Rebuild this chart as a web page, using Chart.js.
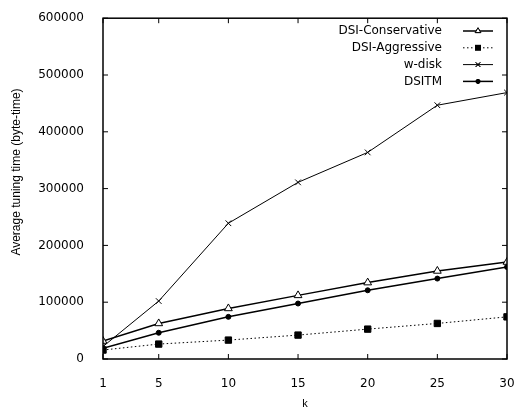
<!DOCTYPE html>
<html>
<head>
<meta charset="utf-8">
<script src="https://cdn.jsdelivr.net/npm/chart.js@4/dist/chart.umd.min.js"></script>
<style>
  html, body { margin: 0; padding: 0; background: #fff; }
  #wrap { width: 525px; height: 407px; }
</style>
</head>
<body>
<div id="wrap"><canvas id="myChart"></canvas></div>
<script>
// valores
const kValues = [1, 5, 10, 15, 20, 25, 30];
const conservative = [31600, 62600, 89000, 112000, 134500, 155000, 170700];
const aggressive = [15800, 26300, 33300, 42100, 52600, 62600, 74200];
const wDisk = [22000, 102000, 239000, 311000, 363700, 446800, 469000];
const dsitm = [18700, 46200, 74200, 97700, 121000, 141600, 162000];
const yTicks = [0, 100000, 200000, 300000, 400000, 500000, 600000];
const labels = ['DSI-Conservative', 'DSI-Aggressive', 'w-disk', 'DSITM'];
const yTitle = 'Average tuning time (byte-time)';

const fonte = '"DejaVu Sans", sans-serif';

function toPoints(arr) {
  let pts = [];
  for (let i = 0; i < kValues.length; i++) {
    pts.push({ x: kValues[i], y: arr[i] });
  }
  return pts;
}

const ctx = document.getElementById('myChart');

// moldura, ticks para dentro e legenda estilo gnuplot
const framePlugin = {
  id: 'frame',
  afterDatasetsDraw(chart) {
    const c = chart.ctx;
    const a = chart.chartArea;
    const xs = chart.scales.x;
    const ys = chart.scales.y;
    c.save();
    c.strokeStyle = '#000';
    c.lineWidth = 1.5;
    c.strokeRect(a.left, a.top, a.right - a.left, a.bottom - a.top);
    c.lineWidth = 1;
    c.beginPath();
    kValues.forEach(k => {
      const px = xs.getPixelForValue(k);
      c.moveTo(px, a.bottom); c.lineTo(px, a.bottom - 5);
      c.moveTo(px, a.top); c.lineTo(px, a.top + 5);
    });
    yTicks.forEach(v => {
      const py = ys.getPixelForValue(v);
      c.moveTo(a.left, py); c.lineTo(a.left + 5, py);
      c.moveTo(a.right, py); c.lineTo(a.right - 5, py);
    });
    c.stroke();

    // titulo do eixo y (um pouco acima do centro, como no original)
    c.save();
    c.translate(17, 172);
    c.rotate(-Math.PI / 2);
    c.font = '12px "Liberation Sans", Arial, sans-serif';
    c.fillStyle = '#000';
    c.textAlign = 'center';
    c.textBaseline = 'middle';
    c.fillText(yTitle, 0, 0);
    c.restore();

    // legenda
    c.font = '12px ' + fonte;
    c.fillStyle = '#000';
    c.textAlign = 'right';
    c.textBaseline = 'middle';
    chart.data.datasets.forEach((ds, i) => {
      const y = 31 + i * 16.8;
      c.fillText(ds.label, 442, y);
      c.strokeStyle = '#000';
      c.lineWidth = ds.borderWidth;
      c.setLineDash(ds.borderDash || []);
      c.beginPath();
      c.moveTo(463, y); c.lineTo(493, y);
      c.stroke();
      c.setLineDash([]);
      c.lineWidth = 1;
      if (ds.pointStyle === 'rect') {
        c.fillRect(475, y - 3, 6, 6);
      } else {
        Chart.helpers.drawPoint(c, {
          pointStyle: ds.pointStyle,
          radius: ds.pointStyle === 'circle' ? 2 : 3.2,
          borderWidth: 1
        }, 478, y);
        c.fillStyle = ds.pointBackgroundColor;
        if (ds.pointStyle !== 'crossRot') c.fill();
        c.stroke();
      }
      c.fillStyle = '#000';
    });
    c.restore();
  }
};

new Chart(ctx, {
  type: 'line',
  data: {
    datasets: [{
      label: labels[0],
      data: toPoints(conservative),
      borderColor: '#000',
      borderWidth: 1.5,
      pointStyle: 'triangle',
      pointRadius: 4.5,
      pointBackgroundColor: '#fff',
      pointBorderColor: '#000',
      pointBorderWidth: 1,
      tension: 0
    },
    {
      label: labels[1],
      data: toPoints(aggressive),
      borderColor: '#000',
      borderWidth: 1,
      borderDash: [1.5, 2.5],
      pointStyle: 'rect',
      pointRadius: 4.5,
      pointBackgroundColor: '#000',
      pointBorderColor: '#000',
      pointBorderWidth: 1,
      tension: 0
    },
    {
      label: labels[2],
      data: toPoints(wDisk),
      borderColor: '#000',
      borderWidth: 1,
      pointStyle: 'crossRot',
      pointRadius: 4,
      pointBackgroundColor: '#000',
      pointBorderColor: '#000',
      pointBorderWidth: 1,
      tension: 0
    },
    {
      label: labels[3],
      data: toPoints(dsitm),
      borderColor: '#000',
      borderWidth: 1.5,
      pointStyle: 'circle',
      pointRadius: 2.5,
      pointBackgroundColor: '#000',
      pointBorderColor: '#000',
      pointBorderWidth: 1,
      tension: 0
    }
    ]
  },
  options: {
    responsive: true,
    maintainAspectRatio: false,
    animation: false,
    layout: { padding: { left: 0, right: 18, top: 17, bottom: 0 } },
    scales: {
      x: {
        type: 'linear',
        min: 1,
        max: 30,
        grid: { display: false },
        border: { display: false },
        afterBuildTicks: scale => { scale.ticks = kValues.map(v => ({ value: v })); },
        afterFit: scale => { scale.height = 48; },
        ticks: {
          color: '#000',
          padding: 10,
          maxRotation: 0,
          callback: value => String(value),
          font: { family: fonte, size: 12 }
        },
        title: {
          display: true,
          text: 'k',
          color: '#000',
          padding: { top: 8, bottom: -4 },
          font: { family: '"Liberation Sans", Arial, sans-serif', size: 11 }
        }
      },
      y: {
        min: 0,
        max: 600000,
        grid: { display: false },
        border: { display: false },
        afterBuildTicks: scale => { scale.ticks = yTicks.map(v => ({ value: v })); },
        afterFit: scale => { scale.width = 103; },
        ticks: {
          color: '#000',
          padding: 11,
          callback: value => String(value),
          font: { family: fonte, size: 12 }
        }
      }
    },
    plugins: {
      legend: { display: false },
      tooltip: { enabled: false }
    }
  },
  plugins: [framePlugin]
});
</script>
</body>
</html>
